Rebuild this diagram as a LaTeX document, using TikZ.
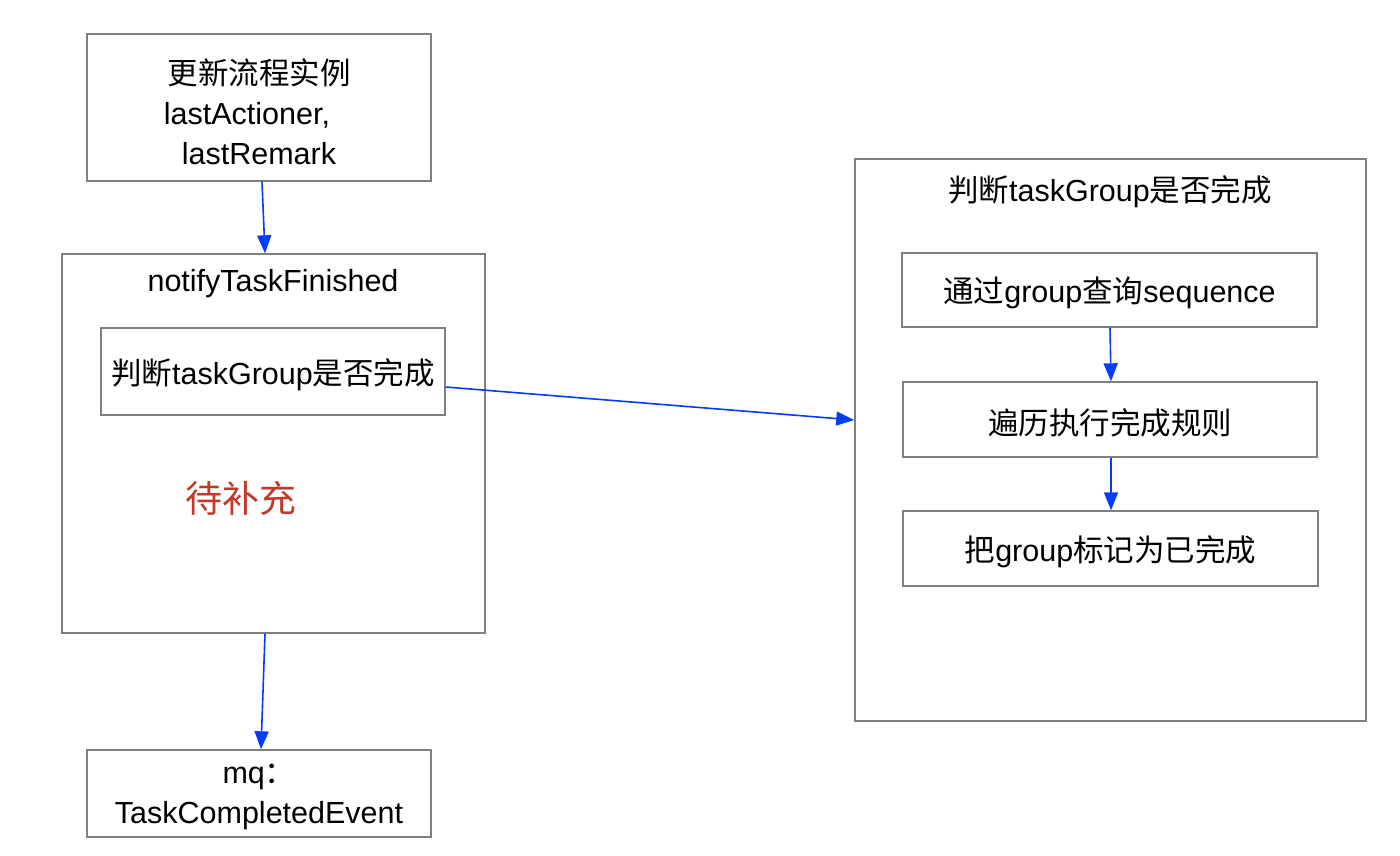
\documentclass[tikz,border=0pt]{standalone}
\usepackage{fontspec}
\setmainfont{Liberation Sans}
\newfontfamily\cjk{Noto Sans CJK SC}
\usetikzlibrary{arrows.meta,calc}
\definecolor{bordergray}{RGB}{128,128,128}
\definecolor{arrowblue}{RGB}{5,60,250}
\definecolor{notered}{RGB}{192,57,43}
\begin{document}
\begin{tikzpicture}[x=1pt,y=-1pt,
  box/.style={draw=bordergray,line width=1.4pt,rectangle,inner sep=0pt},
  lbl/.style={inner sep=0pt,align=center,font=\fontsize{30.5}{40}\selectfont},
  conn/.style={draw=arrowblue,line width=1.6pt,-{Triangle[length=18pt,width=14pt]}}]
\useasboundingbox (0,0) rectangle (1400,855);
\fill[white] (0,0) rectangle (1400,855);
% left column
\node[box,minimum width=344pt,minimum height=147pt] (top) at (259,107.5) {};
\node[lbl] (toptext) at ($(top)+(0,4)$)
  {{\cjk 更新流程实例}\\lastActioner,\rule{24pt}{0pt}\\lastRemark};
\node[box,minimum width=423pt,minimum height=379pt] (notify) at (273.5,443.5) {};
\node[lbl] (notifytitle) at (273,284) {notifyTaskFinished};
\node[box,minimum width=344pt,minimum height=87pt] (inner) at (273,371.5) {};
\node[lbl] (innertext) at ($(inner)+(0,3)$) {{\cjk 判断}taskGroup{\cjk 是否完成}};
\node[lbl,text=notered,font=\fontsize{37}{44}\selectfont\cjk] (todo) at (241,498) {待补充};
\node[box,minimum width=344pt,minimum height=87pt] (mq) at (259,793.5) {};
\node[lbl] (mqtext) at ($(mq)+(0,3)$) {mq{\cjk ：}\\TaskCompletedEvent};
% right group
\node[box,minimum width=511pt,minimum height=562pt] (rbox) at (1110.5,440) {};
\node[lbl] (rtitle) at (1110,192) {{\cjk 判断}taskGroup{\cjk 是否完成}};
\node[box,minimum width=415pt,minimum height=74pt] (r1) at (1109.5,290) {};
\node[lbl] (r1text) at ($(r1)+(0,3)$) {{\cjk 通过}group{\cjk 查询}sequence};
\node[box,minimum width=414pt,minimum height=75pt] (r2) at (1110,419.5) {};
\node[lbl] (r2text) at ($(r2)+(0,3)$) {{\cjk 遍历执行完成规则}};
\node[box,minimum width=415pt,minimum height=75pt] (r3) at (1110.5,548.5) {};
\node[lbl] (r3text) at ($(r3)+(0,3)$) {{\cjk 把}group{\cjk 标记为已完成}};
% connectors
\draw[conn] ($(top.south)+(3,0)$) -- ($(notify.north)+(-8.5,0)$);
\draw[conn] ($(notify.south)+(-8.5,0)$) -- ($(mq.north)+(2,0)$);
\draw[conn] ($(inner.east)+(0,15.5)$) -- ($(rbox.west)+(0,-20)$);
\draw[conn] ($(r1.south)+(0.5,0)$) -- ($(r2.north)+(1,0)$);
\draw[conn] ($(r2.south)+(1,0)$) -- ($(r3.north)+(0.5,0)$);
\end{tikzpicture}
\end{document}
